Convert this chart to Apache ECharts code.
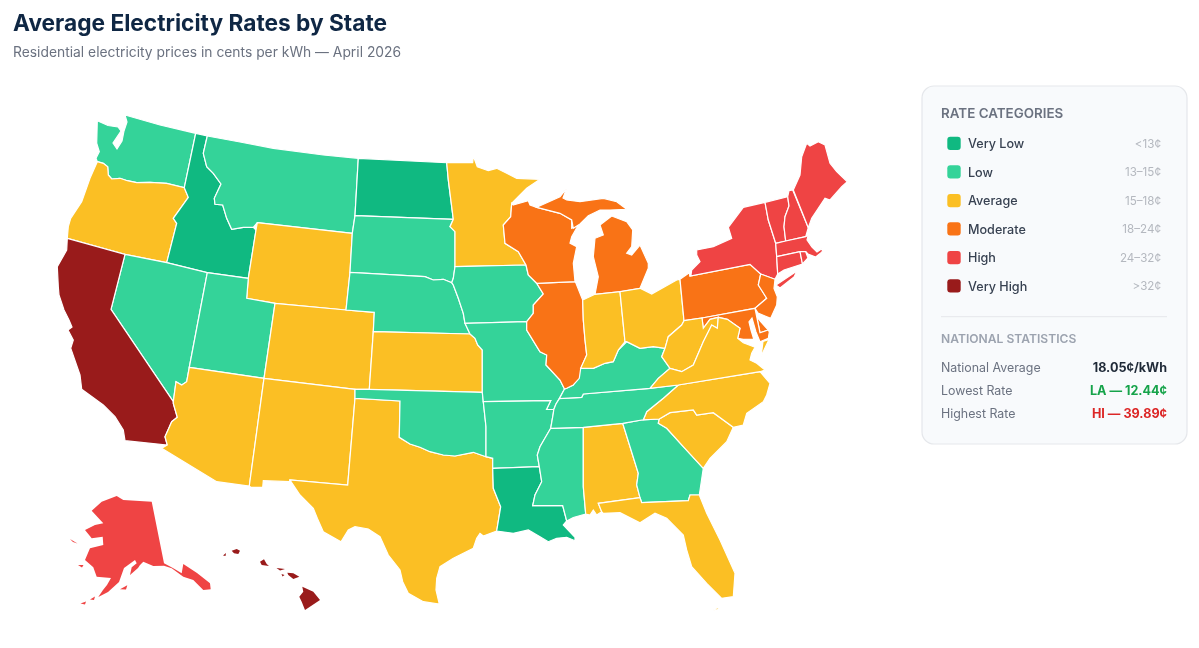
<!DOCTYPE html>
<html><head><meta charset="utf-8">
<style>html,body{margin:0;padding:0;background:#fff}#c{width:1199px;height:648px}</style>
<script src="https://cdn.jsdelivr.net/npm/echarts@6/dist/echarts.min.js"></script>
</head><body><div id="c"></div>
<script>
// ---- data ----
const categoryNames = ['Very Low','Low','Average','Moderate','High','Very High'];
const categoryRanges = ['<13¢','13–15¢','15–18¢','18–24¢','24–32¢','>32¢'];
const categoryColors = ['#10b981','#34d399','#fbbf24','#f97316','#ef4444','#991b1b'];
const veryLowStates = ['ID','ND','LA'];
const lowStates = ['WA','MT','NV','UT','SD','NE','IA','MO','OK','AR','MS','TN','KY','GA'];
const averageStates = ['OR','WY','CO','KS','AZ','NM','TX','MN','IN','OH','WV','VA','NC','SC','AL','FL'];
const moderateStates = ['WI','IL','MI','PA','NJ','DE','MD'];
const highStates = ['NY','VT','NH','ME','MA','CT','RI','AK'];
const veryHighStates = ['CA','HI'];
const offshoreStates = ['AK','HI'];
const statLabels = ['National Average','Lowest Rate','Highest Rate'];
const statValues = ['18.05¢/kWh','LA — 12.44¢','HI — 39.89¢'];
const statColors = ['#1f2937','#16a34a','#dc2626'];

// ---- map geometry: state outlines (Albers-like plane) ----
const stateOutlines = {
WA:[[97.3,120.7,108,125.5,118,127,121,131,113,143,117,149,122,141,124,131,127,122,125,115,160,125,195.7,133.3,184.3,187.7,166.7,183.3,150,182.3,136.7,182.7,127.3,180.7,120,178.3,111.7,179,108.3,175,107.7,166.7,103.3,163.3,97.3,161.7,96,158.3,99.3,151.7,96.7,143.3]],
OR:[[97.3,161.7,103.3,163.3,107.7,166.7,108.3,175,111.7,179,120,178.3,127.3,180.7,136.7,182.7,150,182.3,166.7,183.3,184.3,187.7,188.3,197.3,173.3,218.3,176.7,223.3,166.7,262.7,125,254.3,67.3,238.3,68.3,226.7,70.7,218.3,81.7,201.7,90,178.3]],
ID:[[195.7,133.3,207.3,136,203.3,153.3,206.7,166.7,213.3,173.3,221,184,214.3,198.3,215,204.3,222.7,205,226.7,218.3,231.7,229.3,243.3,227.3,253.3,227.3,256,230,248.3,278.3,207.3,272.7,166.7,262.7,176.7,223.3,173.3,218.3,188.3,197.3,184.3,187.7]],
MT:[[207.3,136,240,142,273.3,148.3,323.3,155,358.3,158.3,355,215.7,352.3,233.3,257.3,222.7,253.3,227.3,243.3,227.3,231.7,229.3,226.7,218.3,222.7,205,215,204.3,214.3,198.3,221,184,213.3,173.3,206.7,166.7,203.3,153.3]],
WY:[[257.3,222.7,352.3,233.3,350,272.3,346,310,275,303.3,246.7,298.3,248.3,278.3,256,230]],
NV:[[125,254.3,166.7,262.7,207.3,272.7,189.3,367.3,186.7,381.7,181.7,385,176,381.7,173.3,401.7,111,309.3]],
CA:[[67.3,238.3,125,254.3,111,309.3,173.3,401.7,173.3,403.3,177.3,417.3,171.7,421.7,165,436.7,167.3,445,125,440.7,123.3,430,115,416.7,103.3,405,81.7,389.3,80,375,70.7,348.3,73.3,340,68,330,72,327,69,320,64,310,59,295,58.3,286.7,57.3,266.7,66.7,250]],
UT:[[207.3,272.7,248.3,278.3,246.7,298.3,275,303.3,264,378.3,189.3,367.3]],
CO:[[275,303.3,346,310,374.3,312.3,373.3,331.7,369.3,389.3,355,389.3,264,378.3]],
AZ:[[189.3,367.3,264,378.3,249.3,486,216.7,481.7,161.7,448.3,167.3,445,165,436.7,171.7,421.7,177.3,417.3,173.3,403.3,173.3,401.7,176,381.7,181.7,385,186.7,381.7]],
NM:[[264,378.3,355,389.3,355,398.3,347.7,485,290,480,289.3,481.7,263.3,480.7,262.7,487.3,250.7,487.3,249.3,486]],
TX:[[355,398.3,400,401,399.3,437.3,410,444,420,447.3,430,451.7,443.3,455,455,456,473.3,452.3,486,456.7,492.7,458.3,492.7,468.3,493.3,488.3,500.7,506.7,496.7,531,483.3,536,480,533.3,476.7,538.3,473.3,548.3,453.3,558.3,440,566.7,436.7,578.3,436,590,439.3,604,423.3,601.7,408.3,593.3,402.7,581.7,400,570,388.3,555,380,536.7,368.3,529,355,526.7,348.3,530,341,541.7,323.3,531.7,317.3,518.3,313.3,508.3,300,495,290,480,347.7,485]],
ND:[[358.3,158.3,446.7,162.7,448.3,180,451.7,206.7,453.3,219.3,355,215.7]],
SD:[[355,215.7,453.3,219.3,450,226.7,455,231.7,455,266.7,453.3,278.3,451.7,282.7,443.3,279.3,433.3,280,425,276.7,350,272.3,352.3,233.3]],
NE:[[350,272.3,425,276.7,433.3,280,443.3,279.3,451.7,282.7,453.3,285,458.3,298.3,463.3,313.3,465,323.3,470,334,373.3,331.7,374.3,312.3,346,310]],
KS:[[373.3,331.7,470,334,475,338.3,477.7,345,482.3,350,482.3,392.3,369.3,389.3]],
OK:[[355,389.3,369.3,389.3,482.3,392.3,483.3,401.7,486,426.7,486,456.7,473.3,452.3,455,456,443.3,455,430,451.7,420,447.3,410,444,399.3,437.3,400,401,355,398.3]],
MN:[[446.7,162.7,472.7,162.7,473.3,156,477.3,166.7,488.3,170.7,496.7,168.3,506.7,173.3,516.7,178.3,540,179.3,526.7,188.3,511.7,203.3,510.7,216.7,503.3,225,505,243.3,518.3,251.7,526,265,455,266.7,455,231.7,450,226.7,453.3,219.3,451.7,206.7,448.3,180]],
IA:[[455,266.7,526,265,528.3,275,536.7,283.3,543.3,294,533.3,305,533.3,313.3,526.7,321.7,465,323.3,463.3,313.3,458.3,298.3,453.3,285,451.7,282.7,453.3,278.3]],
MO:[[465,323.3,526.7,321.7,526.7,330,540,351.7,546.7,355,546,365,560,380,564.5,389,559.5,398,556,404,553.8,409.5,546.5,409.5,550.7,400.7,483.3,401.7,482.3,392.3,482.3,350,477.7,345,475,338.3,470,334]],
AR:[[483.3,401.7,550.7,400.7,546.5,409.5,553.8,409.5,553.3,413.3,550.7,428.3,540,446.7,537.3,455,539.3,466.7,492.7,468.3,492.7,458.3,486,456.7,486,426.7]],
LA:[[492.7,468.3,539.3,466.7,541.7,481.7,535,495,532.7,505.7,562.7,505.7,566.7,521,563.3,525,575,537.3,575,540.7,566.7,537.3,556.7,538.3,548.3,541.7,540,536.7,528.3,530,513.3,533.3,496.7,531,500.7,506.7,493.3,488.3]],
MS:[[550.7,428.3,583.3,427.3,583.3,486.7,585.7,514,573.3,517.5,566.7,521,562.7,505.7,532.7,505.7,535,495,541.7,481.7,539.3,466.7,537.3,455,540,446.7]],
AL:[[583.3,427.3,622.7,423.3,638.3,473.3,636.7,485,640,497.7,598.3,503.3,601.7,511.7,596.7,515,593.3,510,590,515,585.7,514,583.3,486.7]],
GA:[[622.7,423.3,641.7,420,659.3,419,658.3,423.3,666.7,428.3,683.3,446.7,703.3,468.3,699.3,495,690,495,688.3,500.7,641.7,502.7,640,497.7,636.7,485,638.3,473.3]],
FL:[[[598.3,503.3,640,497.7,641.7,502.7,688.3,500.7,690,495,699.3,495,706.7,513.3,720,540,735,573.3,733.3,596.7,721.7,598.3,706.7,583.3,691.7,566.7,686.7,550,683.3,535,666.7,518.3,655,513.3,640,522.7,620,512.7,603.3,513.3,601.7,511.7]],[[712.5,610.5,718.5,607,718,609.5]]],
SC:[[659.3,419,670,412.7,693.3,410,696.7,415,713.3,412.7,733.3,427.3,726.7,441.7,710,458.3,703.3,468.3,683.3,446.7,666.7,428.3,658.3,423.3]],
NC:[[643.3,419.8,646.7,411.7,663.3,398.3,678.3,385,760,371.7,770,383.3,766.7,395,763.3,401.7,746.7,413.3,743.3,425,733.3,427.3,713.3,412.7,696.7,415,693.3,410,670,412.7,659.3,419]],
TN:[[550.7,428.3,583.3,427.3,622.7,423.3,641.7,420,643.3,419.8,646.7,411.7,663.3,398.3,678.3,385,650,388.3,583.3,394,581.7,397.3,559.5,398.5,556,404,553.8,409.5,553.3,413.3]],
KY:[[559.5,398.5,564.5,389,566.7,388.3,573.3,385,580.7,368.3,593.3,368.3,605,363.3,613.3,361.7,618.3,350,626.7,341.7,640,348.3,653.3,346.7,665,348.3,661.7,356.7,670,368.3,658.3,378.3,650,388.3,583.3,394,581.7,397.3]],
IL:[[536.7,283.3,575,281.7,576,283.3,582.7,300,583.3,320,585,340,586.7,355,580.7,368.3,579.3,378.3,573.3,385,566.7,388.3,564.5,389,560,380,546,365,546.7,355,540,351.7,526.7,330,526.7,321.7,533.3,313.3,533.3,305,543.3,294]],
WI:[[513.3,205,528.3,200.7,530,205,536.7,207.3,560,213.3,571.7,220,571.7,228.3,578.3,225,571.7,236.7,570,243.3,576.7,246.7,573.3,263.3,575,281.7,536.7,283.3,528.3,275,526,265,518.3,251.7,505,243.3,503.3,225,510.7,216.7,511.7,203.3]],
MI:[[[536.7,207.3,560,196.7,566.7,188.3,563,198,566.7,200,580,201.7,603.3,198.3,616.7,201.7,626.7,209.3,610,210,600,210,588.3,215.7,580,224,573.3,228.3,571.7,220,560,213.3]],[[611.7,216,626.7,221.7,632.7,230,631.7,246.7,626.7,253.3,631.7,255,640,245,648.3,263.3,648.3,268.3,640,288.3,621.7,291.7,595,294.3,598.3,276.7,593.3,256.7,595,238.3,603.3,235,600,225]]],
IN:[[582.7,300,595,294.3,620,291.7,625,341.7,618.3,350,613.3,361.7,605,363.3,593.3,368.3,580.7,368.3,586.7,355,585,340,583.3,320]],
OH:[[620,291.7,640,288.3,651.7,294,676.7,280,680,279.3,684,320.7,681.7,325,668.3,336.7,665,348.3,653.3,346.7,640,348.3,626.7,341.7,625,341.7]],
PA:[[680,279.3,689.3,272.7,690,276,750,264.3,760.7,274,758.3,285,766.7,298.3,755,308.3,702,318,684,320.7]],
NY:[[[691,275,691.7,270,700,261.7,696.7,255,696.7,250,713.3,246.7,731.7,238.3,728.3,227.3,743.3,207.3,765,202.3,768.3,220,775.7,243.3,776.7,256.7,777.7,274,775,279.3,760.7,274,750,264.3,690,276,689.3,272.7]],[[776,285,797,271,794,277,780,288]]],
VT:[[765,202.3,787.7,196.7,789,206,785,216.7,784,226.7,785.7,241,775.7,243.3,768.3,220]],
NH:[[789,190.7,792.7,190,808.3,227.7,805.7,236.7,785.7,241,784,226.7,785,216.7,789,206,787.7,196.7]],
ME:[[793.3,190,800,175,801.7,156.7,806.7,143.3,810,146,818.3,141.7,825,145,830,163.3,836.7,171.7,847.3,181.7,841.7,186.7,830,200,825,198.3,818.3,208.3,811.7,218.3,808.3,227.7]],
MA:[[775.7,243.3,785.7,241,805.7,236.7,808.3,235,807,240,812,247,817,252,823,248,822,252,815.7,257,808,254,805.7,251.7,800,251.7,776.7,256.7]],
CT:[[776.7,256.7,800,251.7,802.5,264,784,270,777.7,274]],
RI:[[800,251.7,805.7,251.7,808,258,802.5,264]],
NJ:[[760.7,274,775,279.3,774,288.3,777.3,296.7,776.7,305,770.7,318.3,765,316,758,313,755,308.3,766.7,298.3,758.3,285]],
DE:[[755,308.3,756.7,316.7,760.7,321.7,768.3,330,760,332.7]],
MD:[[702,318,755,308.3,760,332.7,768.3,330,769.3,332,768.3,338.3,760,341.7,756,332,752,318,749,322,751,330,753.7,339,743.3,339.3,737.7,338.3,740,328.3,727.3,319.3,718.3,317.3,710,319.3,703.3,328.3]],
WV:[[684,320.7,702,318,703.3,328.3,710,319.3,718.3,317.3,717.3,328.3,711.7,325,703.3,341.7,693.3,365,681.7,371.7,670,368.3,661.7,356.7,665,348.3,668.3,336.7,681.7,325]],
VA:[[[650,388.3,658.3,378.3,670,368.3,681.7,371.7,693.3,365,703.3,341.7,711.7,325,717.3,328.3,718.3,317.3,727.3,319.3,740,328.3,737.7,338.3,743.3,342.7,755,347.3,751.7,353.3,750,360,756.7,363.3,765,370,760,371.7,678.3,385]],[[763,341.5,769,339.5,764,350,761,357]]],
AK:[[[91.7,510.7,101.7,501.7,116.7,496,123.3,500,151.7,501.7,164,563.3,173.3,568.3,181.7,573.3,183.3,564,197,573,210,583.3,210.7,589.3,203.3,590,193.3,580,183.3,576.7,171.7,568.3,164,565.7,153.3,566,143.3,561.7,140,565,138,568,130,575,131.7,567.3,136.7,563.3,135,560,124,568,119,582,108,592,98.3,597,103,590,107,585,111,578,96.7,576.7,93.3,567.3,85,560,90,548.3,103.3,545,102.7,536.7,91.7,538.3,85,530,95,525,103.3,523.3]],[[120,589.3,127.3,585.3,126,589.5]],[[90,599.5,95,596.5,94,600]],[[80.5,603.5,86,601.5,85,604.5]],[[70,539,77.5,543.5,73,542]],[[78,565,83.5,565,82,567.5]]],
HI:[[[302.3,586.7,313.3,591.7,320,600,305,610,301.7,601.7,299.3,596.7,303.3,591.7]],[[287.3,572.7,293.3,573.3,299.3,576.7,293.3,579,288.3,575]],[[276.5,568,285,569,280,570.5]],[[281.5,574,284.5,575,282.5,576.5]],[[260,561.7,264,559.3,266.7,564,269,566,261.7,565]],[[231.7,550.7,236.7,549,240,550.7,238.3,554,234,553.3]],[[223,555.5,226,553,225.5,556]]]
};

// ---- build ----
const toPoly = flat => { const pts=[]; for(let i=0;i<flat.length;i+=2) pts.push([flat[i],flat[i+1]]); pts.push(pts[0].slice()); return [pts]; };
const features = Object.keys(stateOutlines).map(name => {
  const o = stateOutlines[name];
  const polys = Array.isArray(o[0][0]) ? o.map(p => toPoly(p[0])) : o.map(toPoly);
  return {type:'Feature',properties:{name},geometry:{type:'MultiPolygon',coordinates:polys}};
});
let x0=1e9,x1=-1e9,y0=1e9,y1=-1e9;
features.forEach(f=>f.geometry.coordinates.forEach(p=>p[0].forEach(c=>{x0=Math.min(x0,c[0]);x1=Math.max(x1,c[0]);y0=Math.min(y0,c[1]);y1=Math.max(y1,c[1]);})));
echarts.registerMap('usStates',{type:'FeatureCollection',features});

const groups=[veryLowStates,lowStates,averageStates,moderateStates,highStates,veryHighStates];
const mapData=[];
groups.forEach((g,i)=>g.forEach(name=>{
  const d={name,value:i};
  if(offshoreStates.includes(name)) d.itemStyle={borderWidth:0};
  mapData.push(d);
}));

const FONT='Inter, "Noto Sans", sans-serif';
const g=[];
g.push({type:'rect',shape:{x:922,y:86,width:265,height:358,r:12},style:{fill:'#f8fafc',stroke:'#e5e7eb',lineWidth:1.2}});
const txt=(x,y,text,fill,size,weight,align)=>({type:'text',x,y,style:{text,fill,font:`${weight} ${size}px ${FONT}`,textAlign:align||'left',textVerticalAlign:'middle'}});
g.push(txt(941,113.5,'RATE CATEGORIES','#6b7280',13.4,600));
const rowY=[143.5,172,200.7,229,257.7,286];
categoryNames.forEach((n,i)=>{
  g.push({type:'rect',shape:{x:947.3,y:rowY[i]-6.8,width:13.4,height:13.4,r:3},style:{fill:categoryColors[i]}});
  g.push(txt(968,rowY[i]+0.8,n,'#374151',12.6,500));
  g.push(txt(1161,rowY[i]+0.8,categoryRanges[i],'#b4b8bf',11.6,400,'right'));
});
g.push({type:'line',shape:{x1:941,y1:316.7,x2:1167,y2:316.7},style:{stroke:'#e5e7eb',lineWidth:1}});
g.push(txt(941,339.8,'NATIONAL STATISTICS','#9ca3af',12.1,600));
const statY=[368.5,391.5,414];
statLabels.forEach((l,i)=>{
  g.push(txt(941,statY[i],l,'#6b7280',12.4,400));
  g.push(txt(1167,statY[i],statValues[i],statColors[i],12.6,700,'right'));
});

const chart=echarts.init(document.getElementById('c'),null,{renderer:'canvas'});
chart.setOption({
  backgroundColor:'#ffffff',animation:false,
  title:[
    {text:'Average Electricity Rates by State',left:8,top:8,textStyle:{fontFamily:FONT,fontSize:22.7,fontWeight:700,color:'#0f2744'}},
    {text:'Residential electricity prices in cents per kWh — April 2026',left:8,top:41,textStyle:{fontFamily:FONT,fontSize:13.85,fontWeight:400,color:'#6b7280'}}
  ],
  visualMap:{show:false,type:'piecewise',seriesIndex:0,pieces:categoryColors.map((color,i)=>({value:i,color}))},
  series:[{type:'map',map:'usStates',left:x0,top:y0,width:x1-x0,height:y1-y0,
    projection:{project:p=>p,unproject:p=>p},
    silent:true,label:{show:false},
    itemStyle:{borderColor:'#ffffff',borderWidth:1.2},
    emphasis:{disabled:true},select:{disabled:true},
    data:mapData}],
  graphic:{elements:g}
});
</script></body></html>
